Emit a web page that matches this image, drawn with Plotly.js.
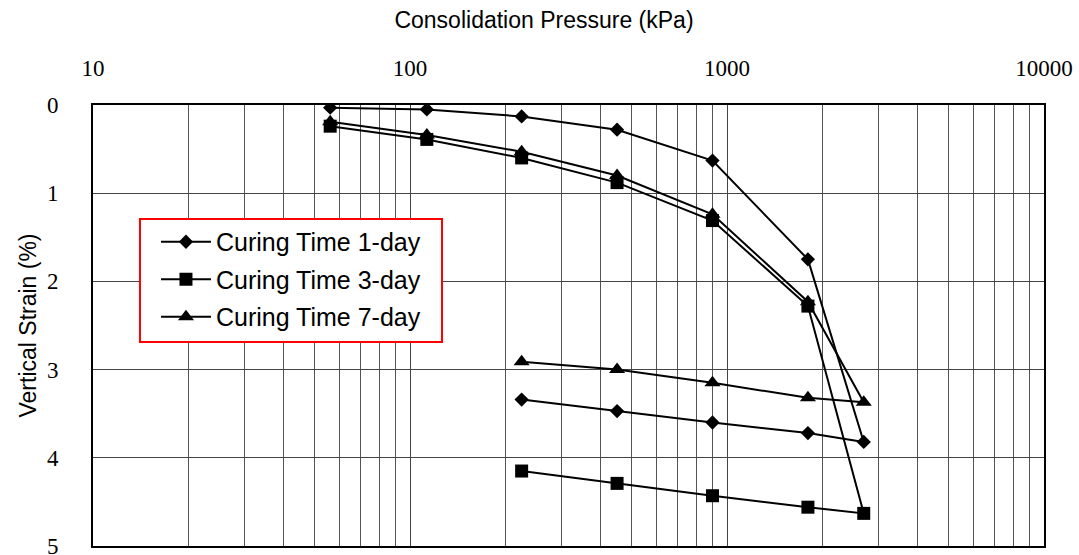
<!DOCTYPE html>
<html>
<head>
<meta charset="utf-8">
<script src="https://cdn.plot.ly/plotly-3.0.1.min.js"></script>
<style>html,body{margin:0;padding:0;background:#fff;}#chart{width:1079px;height:555px;}</style>
</head>
<body>
<div id="chart"></div>
<script>
// Consolidation pressure sequence (kPa): loading then unloading
const pressure = [56, 113, 225, 450, 900, 1800, 2700, 1800, 900, 450, 225];
const strain1day = [0.03, 0.05, 0.13, 0.28, 0.63, 1.75, 3.82, 3.72, 3.60, 3.47, 3.34];
const strain3day = [0.24, 0.39, 0.60, 0.88, 1.31, 2.28, 4.63, 4.56, 4.43, 4.29, 4.15];
const strain7day = [0.19, 0.34, 0.53, 0.80, 1.24, 2.23, 3.37, 3.32, 3.15, 3.00, 2.91];
const seriesNames = ["Curing Time 1-day", "Curing Time 3-day", "Curing Time 7-day"];
const xTickVals = [10, 100, 1000, 10000];
const xTickText = ["10", "100", "1000", "10000"];
const yTickVals = [0, 1, 2, 3, 4, 5];

const minorVals = [];
for (let d = 10; d < 10000; d *= 10) {
  for (let k = 2; k <= 9; k++) minorVals.push(k * d);
}

const lineStyle = {color: "#000", width: 2};
const traces = [
  {x: pressure, y: strain1day, name: seriesNames[0], legendgroup: "g1", legendrank: 1, mode: "lines+markers",
   line: lineStyle, marker: {symbol: "diamond", size: 11, color: "#000"}},
  {x: pressure, y: strain7day, name: seriesNames[2], legendgroup: "g7", legendrank: 3, mode: "lines+markers",
   line: lineStyle, marker: {symbol: "triangle-up", size: 14, color: "#000"}},
  {x: pressure, y: strain3day, name: seriesNames[1], legendgroup: "g3", legendrank: 2, mode: "lines+markers",
   line: lineStyle, marker: {symbol: "square", size: 13, color: "#000"}}
];

const layout = {
  width: 1079, height: 555,
  margin: {l: 93, r: 35, t: 105, b: 9},
  paper_bgcolor: "#fff", plot_bgcolor: "#fff",
  showlegend: true,
  title: {
    text: "Consolidation Pressure (kPa)",
    x: 544 / 1079, xanchor: "center", xref: "container",
    y: 1 - 20 / 555, yanchor: "middle", yref: "container",
    font: {family: "Liberation Sans, Arial, sans-serif", size: 23, color: "#000"}
  },
  shapes: [{
    type: "rect", xref: "paper", yref: "paper",
    x0: 0.0494, x1: 0.367, y0: 0.4626, y1: 0.7415,
    line: {color: "#ff0000", width: 2}, fillcolor: "#fff", layer: "above"
  }],
  legend: {
    x: 0.0494 + 16 / 951, y: 0.7415, xanchor: "left", yanchor: "top",
    bgcolor: "rgba(0,0,0,0)", borderwidth: 0,
    font: {family: "Liberation Sans, Arial, sans-serif", size: 25, color: "#000"},
    traceorder: "grouped", tracegroupgap: 2, itemwidth: 50
  },
  xaxis: {
    type: "log", side: "top", range: [1, 4],
    tickmode: "array", tickvals: xTickVals, ticktext: xTickText,
    ticks: "", ticklabelstandoff: 18,
    tickfont: {family: "Liberation Serif, Times New Roman, serif", size: 23, color: "#000"},
    showgrid: true, gridcolor: "#444", gridwidth: 1,
    minor: {tickmode: "array", tickvals: minorVals, showgrid: true, gridcolor: "#555", gridwidth: 1, ticks: ""},
    showline: true, linecolor: "#000", linewidth: 2, mirror: true,
    zeroline: false
  },
  yaxis: {
    range: [5, 0], tickmode: "array", tickvals: yTickVals,
    ticks: "", ticklabelstandoff: 28, ticklabeloverflow: "allow",
    tickfont: {family: "Liberation Serif, Times New Roman, serif", size: 23, color: "#000"},
    showgrid: true, gridcolor: "#444", gridwidth: 1,
    showline: true, linecolor: "#000", linewidth: 2, mirror: true,
    zeroline: false,
    title: {text: "Vertical Strain (%)", standoff: 4,
            font: {family: "Liberation Sans, Arial, sans-serif", size: 23, color: "#000"}}
  }
};

Plotly.newPlot("chart", traces, layout, {displayModeBar: false, staticPlot: true});
</script>
</body>
</html>
